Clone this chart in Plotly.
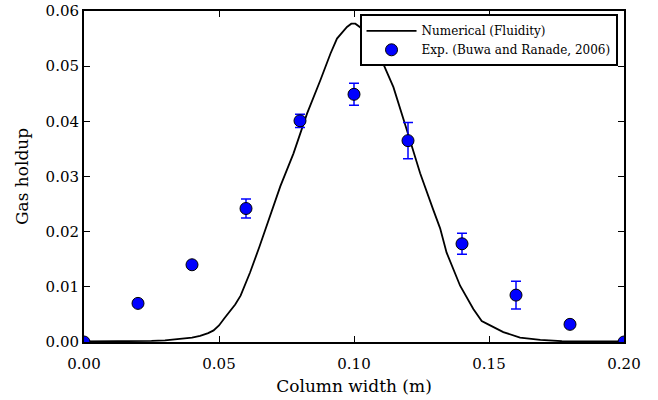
import plotly.graph_objects as go

# Numerical (Fluidity) curve
num_x = [0.0, 0.01, 0.02, 0.025, 0.03, 0.035, 0.04, 0.043, 0.046, 0.048, 0.050, 0.052,
         0.054, 0.056, 0.058, 0.0615, 0.065, 0.0727, 0.0776, 0.0826, 0.0875, 0.0913,
         0.0937, 0.0974, 0.099, 0.1005, 0.103, 0.106, 0.1098, 0.1146, 0.1196, 0.1245,
         0.1294, 0.1319, 0.1343, 0.1393, 0.1442, 0.1473, 0.1497, 0.1525, 0.1553,
         0.1615, 0.169, 0.177, 0.19, 0.2]
num_y = [0.0001, 0.0001, 0.00015, 0.0002, 0.0003, 0.0005, 0.0008, 0.0011, 0.0016, 0.0021,
         0.0030, 0.0043, 0.0055, 0.0068, 0.0084, 0.0126, 0.0173, 0.0282, 0.0342, 0.0414,
         0.0474, 0.0523, 0.0550, 0.0571, 0.0577, 0.0577, 0.0568, 0.0548, 0.0516, 0.0462,
         0.0384, 0.0306, 0.0239, 0.0206, 0.0162, 0.0102, 0.0060, 0.0038, 0.0032, 0.0025,
         0.0018, 0.0008, 0.0004, 0.00015, 0.0001, 0.0001]

# Experimental data (Buwa and Ranade, 2006)
exp_x = [0.0, 0.02, 0.04, 0.06, 0.08, 0.10, 0.12, 0.14, 0.16, 0.18, 0.20]
exp_y = [0.0, 0.0070, 0.0140, 0.0242, 0.0401, 0.0449, 0.0365, 0.0178, 0.0085, 0.0032, 0.0]
exp_err = [0.0, 0.0004, 0.0004, 0.0017, 0.0012, 0.0020, 0.0033, 0.0019, 0.0025, 0.0003, 0.0]

x_ticks = [0.0, 0.05, 0.10, 0.15, 0.20]
x_tick_labels = ["0.00", "0.05", "0.10", "0.15", "0.20"]
y_ticks = [0.0, 0.01, 0.02, 0.03, 0.04, 0.05, 0.06]
y_tick_labels = ["0.00", "0.01", "0.02", "0.03", "0.04", "0.05", "0.06"]

FONT = "DejaVu Serif"

fig = go.Figure()
fig.add_trace(go.Scatter(
    x=num_x, y=num_y, mode="lines", name="Numerical (Fluidity)",
    line=dict(color="black", width=1.8),
))
fig.add_trace(go.Scatter(
    x=exp_x, y=exp_y, mode="markers", name="Exp. (Buwa and Ranade, 2006)",
    marker=dict(color="#0000ff", size=12, line=dict(color="black", width=1)),
    error_y=dict(type="data", array=exp_err, visible=True, color="#0000ff",
                 thickness=1.5, width=5),
))

axis_common = dict(
    showline=True, linecolor="black", linewidth=2, mirror="allticks",
    ticks="inside", ticklen=6, tickwidth=1, tickcolor="black",
    showgrid=False, zeroline=False, automargin=False,
    tickfont=dict(family=FONT, size=15, color="black"),
)

fig.update_layout(
    width=658, height=400,
    margin=dict(l=84, r=34, t=10.5, b=57.5),
    paper_bgcolor="white", plot_bgcolor="white",
    font=dict(family=FONT, color="black"),
    xaxis=dict(range=[0, 0.2], tickvals=x_ticks, ticktext=x_tick_labels, ticklabelstandoff=7,
               title=dict(text="Column width (m)", font=dict(family=FONT, size=17), standoff=8),
               **axis_common),
    yaxis=dict(range=[0, 0.06], tickvals=y_ticks, ticktext=y_tick_labels,
               title=dict(text="Gas holdup", font=dict(family=FONT, size=17), standoff=13),
               **axis_common),
    legend=dict(x=0.988, y=0.99, xanchor="right", yanchor="top",
                bgcolor="white", bordercolor="black", borderwidth=2,
                font=dict(family=FONT, size=12, color="black"),
                itemwidth=50, tracegroupgap=0),
    showlegend=True,
)

fig.write_html("out.html")
